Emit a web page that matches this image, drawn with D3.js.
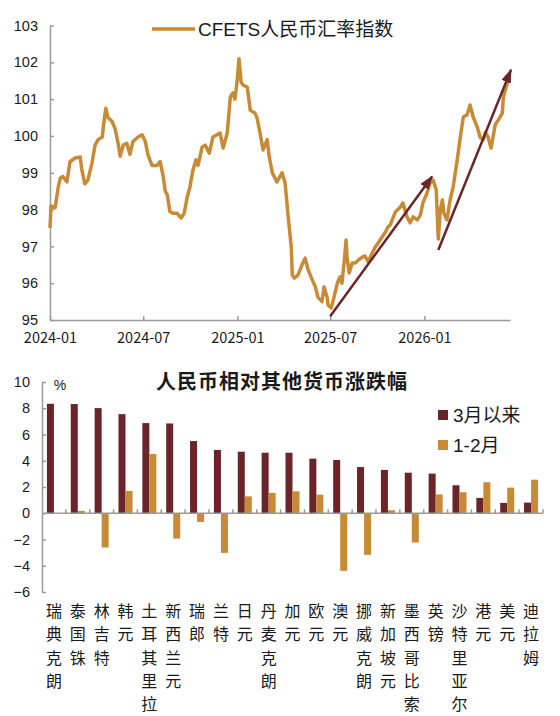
<!DOCTYPE html>
<html>
<head>
<meta charset="utf-8">
<script src="https://cdn.jsdelivr.net/npm/d3@7"></script>
<style>
  body { margin: 0; background: #fff; }
  text { fill: #1a1a1a; }
</style>
</head>
<body>
<div id="chart"></div>
<script>
// ---- top chart: CFETS index ----
var lineDates = ['2024-01-01','2024-01-03','2024-01-11','2024-01-17','2024-01-21','2024-01-26','2024-02-03','2024-02-09','2024-02-19','2024-02-29',
  '2024-03-03','2024-03-09','2024-03-15','2024-03-23','2024-03-29','2024-04-04','2024-04-12','2024-04-15','2024-04-19','2024-04-23',
  '2024-05-01','2024-05-07','2024-05-13','2024-05-17','2024-05-23','2024-05-30','2024-06-05','2024-06-11','2024-06-21','2024-06-29',
  '2024-07-05','2024-07-10','2024-07-18','2024-07-28','2024-08-03','2024-08-09','2024-08-13','2024-08-17','2024-08-22','2024-08-28',
  '2024-09-05','2024-09-13','2024-09-19','2024-09-25','2024-09-30','2024-10-06','2024-10-12','2024-10-16','2024-10-24','2024-10-30',
  '2024-11-07','2024-11-14','2024-11-22','2024-11-28','2024-12-04','2024-12-12','2024-12-18','2024-12-23','2024-12-27','2024-12-31',
  '2025-01-04','2025-01-08','2025-01-12','2025-01-20','2025-01-26','2025-02-04','2025-02-08','2025-02-14','2025-02-20','2025-02-28',
  '2025-03-04','2025-03-10','2025-03-19','2025-03-29','2025-04-04','2025-04-10','2025-04-16','2025-04-18','2025-04-22','2025-04-29',
  '2025-05-07','2025-05-13','2025-05-19','2025-05-27','2025-06-02','2025-06-07','2025-06-15','2025-06-19','2025-06-25','2025-06-27',
  '2025-07-03','2025-07-07','2025-07-15','2025-07-20','2025-07-24','2025-07-28','2025-08-01','2025-08-03','2025-08-07','2025-08-13',
  '2025-08-19','2025-08-25','2025-09-01','2025-09-07','2025-09-13','2025-09-21','2025-09-27','2025-10-03','2025-10-10','2025-10-16',
  '2025-10-22','2025-10-26','2025-11-05','2025-11-15','2025-11-20','2025-11-28','2025-12-04','2025-12-10','2025-12-18','2025-12-24',
  '2025-12-29','2026-01-06','2026-01-12','2026-01-18','2026-01-24','2026-01-28','2026-02-01','2026-02-05','2026-02-08','2026-02-14',
  '2026-02-20','2026-02-26','2026-03-06','2026-03-12','2026-03-18','2026-03-25','2026-03-31','2026-04-06','2026-04-14','2026-04-20',
  '2026-04-26','2026-04-30','2026-05-05','2026-05-11','2026-05-15','2026-05-19','2026-05-25','2026-06-02','2026-06-04','2026-06-12',
  '2026-06-15']
var lineValues = [97.5,98.1,98.05,98.6,98.85,98.9,98.75,99.3,99.4,99.43,
  99.1,98.7,98.8,99.27,99.75,99.9,99.97,100.35,100.75,100.5,
  100.4,100.2,99.8,99.45,99.75,99.8,99.5,99.85,99.97,100.03,
  99.85,99.5,99.2,99.2,99.3,98.9,98.5,98.4,97.95,97.9,
  97.9,97.77,97.9,98.35,98.6,99.07,99.35,99.2,99.7,99.75,
  99.53,99.97,100.03,100.08,99.67,100.08,101.06,101.17,101.0,101.45,
  102.1,101.47,101.38,101.33,100.7,100.62,100.5,100.08,99.62,99.9,
  99.43,99.0,98.75,99.0,98.72,97.8,96.98,96.22,96.14,96.22,
  96.5,96.68,96.36,96.09,95.9,95.62,95.5,95.9,95.62,95.4,
  95.33,95.54,96.0,96.17,96.0,96.55,97.17,96.7,96.28,96.55,
  96.55,96.63,96.7,96.74,96.58,96.82,96.98,97.1,97.25,97.37,
  97.53,97.58,97.93,98.07,98.18,97.8,97.64,97.8,97.72,97.85,
  98.18,98.45,98.72,98.8,98.53,97.2,97.99,98.26,97.9,97.72,
  98.26,98.61,99.35,99.97,100.52,100.57,100.84,100.52,100.24,99.95,
  99.9,100.1,99.97,99.67,99.97,100.3,100.43,100.62,101.06,101.45,
  101.6]
var topYTicks = [95, 96, 97, 98, 99, 100, 101, 102, 103]
var topXTicks = ['2024-01-01', '2024-07-01', '2025-01-01', '2025-07-01', '2026-01-01']
// trend arrows: start date/value -> end date/value
var arrowStartDates = ['2025-07-01', '2026-01-28']
var arrowStartValues = [95.1, 96.9]
var arrowEndDates = ['2026-01-16', '2026-06-19']
var arrowEndValues = [98.9, 101.8]

// ---- bottom chart: RMB vs other currencies ----
var categories = ['瑞典克朗','泰国铢','林吉特','韩元','土耳其里拉','新西兰元','瑞郎','兰特','日元','丹麦克朗','加元',
  '欧元','澳元','挪威克朗','新加坡元','墨西哥比索','英镑','沙特里亚尔','港元','美元','迪拉姆']
var sinceMarch = [8.34, 8.32, 8.01, 7.55, 6.87, 6.84, 5.5, 4.82, 4.69, 4.61, 4.61,
  4.16, 4.06, 3.52, 3.3, 3.09, 3.02, 2.13, 1.17, 0.79, 0.81]
var janFeb = [0.0, 0.18, -2.61, 1.7, 4.51, -1.93, -0.66, -3.02, 1.29, 1.55, 1.67,
  1.42, -4.39, -3.17, 0.23, -2.23, 1.44, 1.6, 2.36, 1.95, 2.56]
var seriesNames = ['3月以来', '1-2月']
var bottomYTicks = [-6, -4, -2, 0, 2, 4, 6, 8, 10]

var gold = '#C98A35'
var maroon = '#6B2427'
var axisGray = '#9a9a9a'
var latin = '"Liberation Sans", Arial, "Noto Sans CJK SC", sans-serif'
var cjk = '"Noto Sans CJK SC", "Liberation Sans", sans-serif'

var svg = d3.select('#chart').append('svg')
  .attr('width', 560).attr('height', 716)

// ================= top chart =================
var parse = d3.timeParse('%Y-%m-%d')
var lineData = lineDates.map(function(d, i) { return {date: parse(d), value: lineValues[i]} })

var x = d3.scaleTime().domain([parse('2024-01-01'), parse('2026-06-17')]).range([50, 510])
var y = d3.scaleLinear().domain([95, 103]).range([320, 25.5])

var topChart = svg.append('g')

var yAxis = topChart.append('g').attr('transform', 'translate(50,0)')
  .call(d3.axisLeft(y).tickValues(topYTicks).tickSizeInner(-4).tickSizeOuter(0).tickPadding(12))
yAxis.selectAll('text').style('font-family', latin).style('font-size', '14.5px')

var xAxis = topChart.append('g').attr('transform', 'translate(0,320)')
  .call(d3.axisBottom(x).tickValues(topXTicks.map(parse)).tickFormat(d3.timeFormat('%Y-%m'))
    .tickSizeInner(-4).tickSizeOuter(0).tickPadding(13))
xAxis.selectAll('text').style('font-family', cjk).style('font-size', '14.5px')

topChart.selectAll('.domain, .tick line').attr('stroke', axisGray).attr('stroke-width', 1.5)

topChart.append('path')
  .datum(lineData)
  .attr('fill', 'none')
  .attr('stroke', gold)
  .attr('stroke-width', 3.5)
  .attr('stroke-linejoin', 'round')
  .attr('d', d3.line().x(function(d) { return x(d.date) }).y(function(d) { return y(d.value) }))

svg.append('defs').append('marker')
  .attr('id', 'arrowhead')
  .attr('markerUnits', 'userSpaceOnUse')
  .attr('markerWidth', 14).attr('markerHeight', 10)
  .attr('refX', 13).attr('refY', 5)
  .attr('orient', 'auto')
  .append('path').attr('d', 'M0,0 L14,5 L0,10 Z').attr('fill', maroon)

for (var i = 0; i < arrowStartDates.length; ++i) {
  topChart.append('line')
    .attr('x1', x(parse(arrowStartDates[i]))).attr('y1', y(arrowStartValues[i]))
    .attr('x2', x(parse(arrowEndDates[i]))).attr('y2', y(arrowEndValues[i]))
    .attr('stroke', maroon)
    .attr('stroke-width', 2.5)
    .attr('marker-end', 'url(#arrowhead)')
}

// legend
topChart.append('line').attr('x1', 152).attr('x2', 195).attr('y1', 29).attr('y2', 29)
  .attr('stroke', gold).attr('stroke-width', 3.5)
topChart.append('text').attr('x', 198).attr('y', 29).attr('dy', '0.35em')
  .style('font-family', latin).style('font-size', '19px')
  .text('CFETS人民币汇率指数')

// ================= bottom chart =================
var x0 = d3.scaleBand().domain(categories).range([42, 543])
var x1 = d3.scaleBand().domain(seriesNames).range([0, x0.bandwidth()]).paddingOuter(0.7)
var yb = d3.scaleLinear().domain([-6, 10]).range([592, 382])
var colors = [maroon, gold]
var allSeries = [sinceMarch, janFeb]

var bottomChart = svg.append('g')

var ybAxis = bottomChart.append('g').attr('transform', 'translate(42,0)')
  .call(d3.axisLeft(yb).tickValues(bottomYTicks).tickSizeInner(-4).tickSizeOuter(0).tickPadding(12))
ybAxis.selectAll('text').style('font-family', latin).style('font-size', '14.5px')
ybAxis.selectAll('.domain, .tick line').attr('stroke', axisGray).attr('stroke-width', 1.5)

allSeries.forEach(function(values, s) {
  bottomChart.append('g').selectAll('rect')
    .data(values)
    .join('rect')
      .attr('x', function(d, i) { return x0(categories[i]) + x1(seriesNames[s]) })
      .attr('width', x1.bandwidth())
      .attr('y', function(d) { return yb(Math.max(0, d)) })
      .attr('height', function(d) { return Math.abs(yb(d) - yb(0)) })
      .attr('fill', colors[s])
})

// zero line with ticks between categories
bottomChart.append('line').attr('x1', 42).attr('x2', 543).attr('y1', yb(0)).attr('y2', yb(0))
  .attr('stroke', axisGray).attr('stroke-width', 1.5)
bottomChart.append('g').selectAll('line')
  .data(categories.slice(1).map(function(c) { return x0(c) }).concat([543]))
  .join('line')
    .attr('x1', function(d) { return d }).attr('x2', function(d) { return d })
    .attr('y1', yb(0)).attr('y2', yb(0) - 4)
    .attr('stroke', axisGray).attr('stroke-width', 1.5)

// category labels, one character per row
bottomChart.append('g').selectAll('text')
  .data(categories)
  .join('text')
    .attr('text-anchor', 'middle')
    .style('font-family', cjk)
    .style('font-size', '16px')
    .each(function(c) {
      var t = d3.select(this)
      Array.from(c).forEach(function(ch, k) {
        t.append('tspan')
          .attr('x', x0(c) + x0.bandwidth() / 2)
          .attr('y', 617 + k * 23.3)
          .text(ch)
      })
    })

bottomChart.append('text').attr('x', 60).attr('y', 385).attr('text-anchor', 'middle').attr('dy', '0.35em')
  .style('font-family', latin).style('font-size', '14px').text('%')

bottomChart.append('text').attr('x', 282).attr('y', 382).attr('text-anchor', 'middle').attr('dy', '0.35em')
  .style('font-family', cjk).style('font-size', '20px').style('font-weight', 'bold')
  .style('letter-spacing', '1px')
  .text('人民币相对其他货币涨跌幅')

// legend
var legendY = [415, 445]
seriesNames.forEach(function(name, s) {
  bottomChart.append('rect').attr('x', 438).attr('y', legendY[s] - 5).attr('width', 10).attr('height', 10)
    .attr('fill', colors[s])
  bottomChart.append('text').attr('x', 453).attr('y', legendY[s]).attr('dy', '0.35em')
    .style('font-family', latin).style('font-size', '19px')
    .text(name)
})
</script>
</body>
</html>
